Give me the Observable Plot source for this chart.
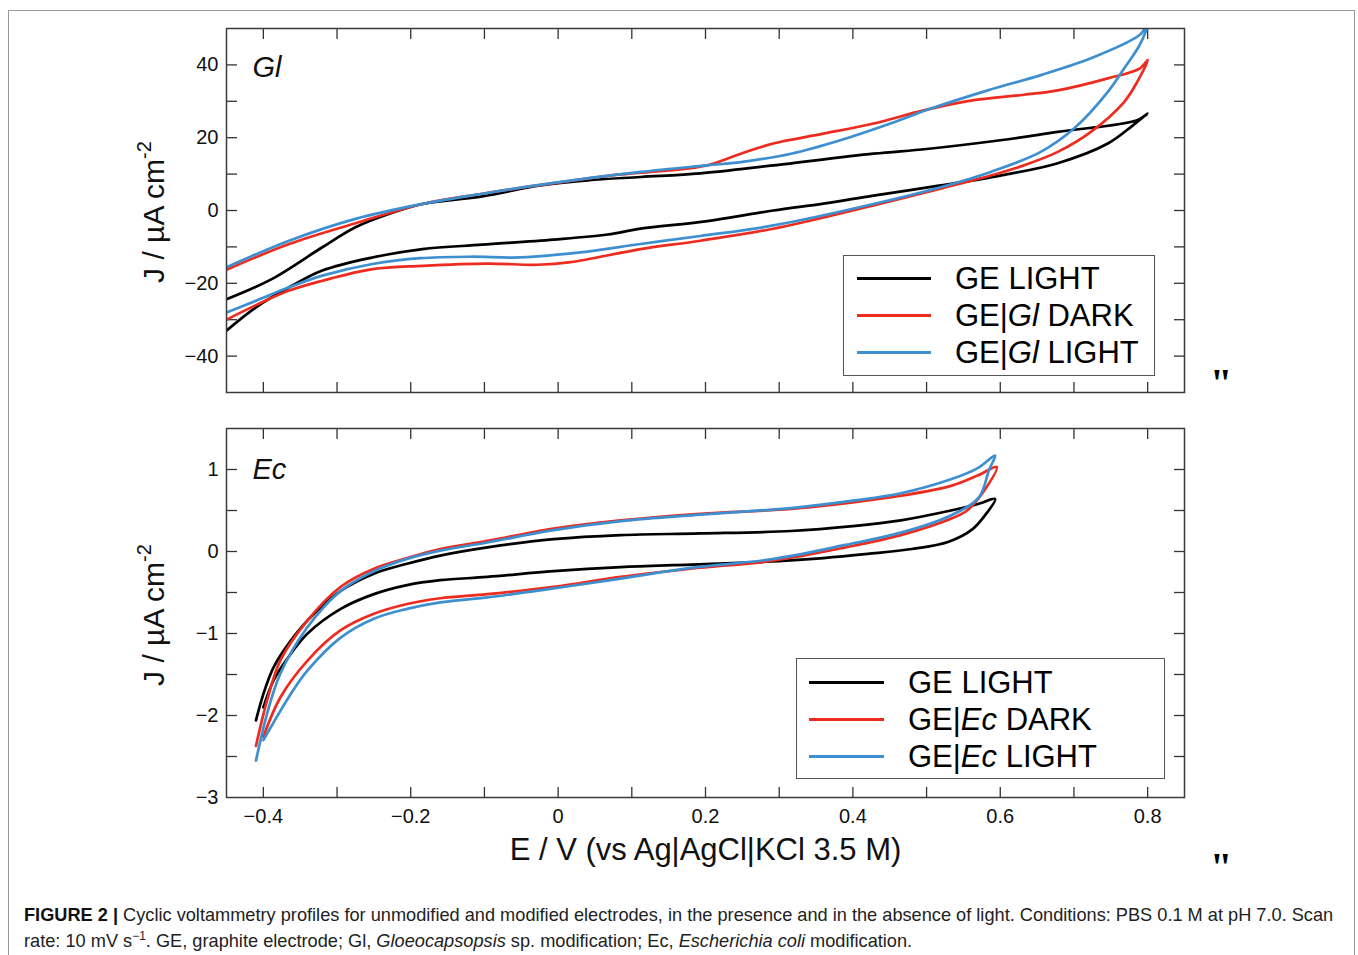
<!DOCTYPE html>
<html>
<head>
<meta charset="utf-8">
<script src="https://cdn.jsdelivr.net/npm/d3@7"></script>
<script src="https://cdn.jsdelivr.net/npm/@observablehq/plot@0.6"></script>
<style>
  body { margin: 0; background: #fff; font-family: "Liberation Sans", Arial, Helvetica, sans-serif; }
  #wrap { position: relative; width: 1358px; height: 955px; overflow: hidden; background: #fff; }
  #border { position: absolute; left: 8px; top: 10px; width: 1347px; height: 980px; border: 1px solid #9a9a9a; box-sizing: border-box; }
  .plotbox { position: absolute; left: 0; }
  .legend { position: absolute; border: 1px solid #555; background: #fff; box-sizing: border-box; }
  .legend .sw { position: absolute; height: 3px; }
  .legend .lt { position: absolute; font-size: 31px; line-height: 31px; color: #000; white-space: nowrap; transform: translateY(-50%); }
  .quote { position: absolute; font-family: "Liberation Serif", "Times New Roman", serif; font-size: 40px; line-height: 40px; font-weight: bold; color: #000; }
  #caption { position: absolute; left: 24px; top: 902px; width: 1330px; font-size: 18.2px; line-height: 26px; color: #222; white-space: nowrap; }
  #caption b { font-weight: bold; color: #111; }
</style>
</head>
<body>
<div id="wrap">
  <div id="border"></div>
  <div id="top" class="plotbox" style="top:0px"></div>
  <div id="bottom" class="plotbox" style="top:400px"></div>
  <div id="legTop" class="legend" style="left:843px;top:255px;width:312px;height:121px;"></div>
  <div id="legBottom" class="legend" style="left:796px;top:658px;width:369px;height:121px;"></div>
  <div class="quote" style="left:1210px;top:363px;">"</div>
  <div class="quote" style="left:1210px;top:847px;">"</div>
  <div id="caption"><b>FIGURE 2 |</b> Cyclic voltammetry profiles for unmodified and modified electrodes, in the presence and in the absence of light. Conditions: PBS 0.1 M at pH 7.0. Scan<br>rate: 10 mV s<sup style="font-size:12px;line-height:0;">−1</sup>. GE, graphite electrode; Gl, <i>Gloeocapsopsis</i> sp. modification; Ec, <i>Escherichia coli</i> modification.</div>
</div>
<script>
// ---------------- data ----------------
const xTicks = [-0.4, -0.3, -0.2, -0.1, 0, 0.1, 0.2, 0.3, 0.4, 0.5, 0.6, 0.7, 0.8];
const xTickLabels = [-0.4, -0.2, 0, 0.2, 0.4, 0.6, 0.8];
const glYTicks = [-40, -30, -20, -10, 0, 10, 20, 30, 40];
const glYTickLabels = [-40, -20, 0, 20, 40];
const ecYTicks = [-2.5, -2, -1.5, -1, -0.5, 0, 0.5, 1];
const ecYTickLabels = [-3, -2, -1, 0, 1];

const seriesNames = ["GE LIGHT", "DARK", "LIGHT"];
const seriesColors = ["#000000", "#ee2b1f", "#3d8fd0"];

// Gl panel (top): GE LIGHT
const glGeLightE = [-0.45, -0.388, -0.32, -0.275, -0.229, -0.184, -0.103, -0.024, 0.04, 0.112, 0.193, 0.292, 0.428, 0.5, 0.6, 0.678, 0.786, 0.8,
                    0.78, 0.746, 0.678, 0.6, 0.519, 0.428, 0.36, 0.292, 0.2, 0.112, 0.067, -0.006, -0.103, -0.184, -0.252, -0.32, -0.365, -0.41, -0.45];
const glGeLightJ = [-24.4, -18.8, -10.1, -4.6, -0.9, 1.8, 3.9, 6.9, 8.3, 9.2, 10.2, 12.4, 15.6, 16.9, 19.3, 21.6, 24.8, 26.6,
                    23.4, 18.4, 13, 9.6, 6.9, 4.1, 1.9, 0, -3, -5, -6.6, -8, -9.4, -10.6, -12.9, -16.5, -21.1, -26.6, -33];
// Gl panel: GE|Gl DARK
const glDarkE = [-0.45, -0.365, -0.275, -0.184, -0.103, -0.006, 0.085, 0.15, 0.202, 0.248, 0.292, 0.36, 0.428, 0.496, 0.564, 0.632, 0.678, 0.746, 0.789, 0.8,
                 0.786, 0.768, 0.723, 0.678, 0.632, 0.587, 0.519, 0.428, 0.292, 0.193, 0.112, 0.017, -0.028, -0.096, -0.184, -0.252, -0.32, -0.365, -0.41, -0.45];
const glDarkJ = [-16.3, -9.2, -3.5, 1.8, 4.6, 7.5, 9.9, 11, 12.4, 15.6, 18.4, 21.1, 23.9, 27.5, 30.3, 31.8, 33, 36.3, 39, 41.3,
                 35.4, 29.8, 21.6, 16.1, 12.4, 9.6, 6, 1.4, -5, -8.3, -10.6, -14.2, -14.9, -14.6, -15.2, -16.1, -19.3, -22, -26, -30];
// Gl panel: GE|Gl LIGHT
const glLightE = [-0.45, -0.365, -0.275, -0.184, -0.103, -0.006, 0.112, 0.202, 0.248, 0.316, 0.383, 0.451, 0.506, 0.583, 0.655, 0.723, 0.789, 0.8,
                  0.789, 0.768, 0.746, 0.7, 0.655, 0.587, 0.519, 0.428, 0.292, 0.193, 0.112, 0.03, -0.051, -0.119, -0.187, -0.252, -0.32, -0.365, -0.41, -0.45];
const glLightJ = [-15.6, -8.3, -2.3, 1.8, 4.6, 7.6, 10.6, 12.4, 13.3, 15.6, 19.3, 23.9, 28, 33, 37.2, 41.8, 48.2, 51,
                  45.4, 39, 32.6, 22.5, 16.1, 10.6, 6.4, 1.8, -4.1, -7, -9.2, -11.5, -12.9, -12.7, -13.1, -14.7, -17.9, -21.1, -24.8, -28];

// Ec panel (bottom): GE LIGHT
const ecGeLightE = [-0.41, -0.4, -0.386, -0.363, -0.34, -0.295, -0.25, -0.205, -0.16, -0.096, -0.006, 0.085, 0.193, 0.316, 0.4, 0.465, 0.533, 0.57, 0.593,
                    0.58, 0.562, 0.53, 0.48, 0.42, 0.36, 0.27, 0.18, 0.085, -0.006, -0.096, -0.16, -0.205, -0.25, -0.295, -0.34, -0.363, -0.386, -0.4];
const ecGeLightJ = [-2.06, -1.74, -1.41, -1.09, -0.84, -0.48, -0.27, -0.15, -0.05, 0.05, 0.15, 0.2, 0.22, 0.25, 0.31, 0.38, 0.5, 0.58, 0.64,
                    0.45, 0.27, 0.12, 0.03, -0.03, -0.08, -0.13, -0.16, -0.19, -0.24, -0.31, -0.35, -0.41, -0.52, -0.7, -1.0, -1.25, -1.57, -1.9];
// Ec panel: GE|Ec DARK
const ecDarkE = [-0.41, -0.395, -0.377, -0.34, -0.295, -0.25, -0.205, -0.16, -0.096, -0.006, 0.085, 0.193, 0.316, 0.4, 0.465, 0.533, 0.57, 0.595,
                 0.578, 0.555, 0.533, 0.465, 0.39, 0.293, 0.18, 0.085, -0.006, -0.096, -0.16, -0.205, -0.25, -0.295, -0.34, -0.377, -0.4];
const ecDarkJ = [-2.37, -1.82, -1.33, -0.84, -0.43, -0.21, -0.08, 0.03, 0.13, 0.28, 0.38, 0.46, 0.52, 0.6, 0.68, 0.8, 0.93, 1.03,
                 0.74, 0.5, 0.4, 0.2, 0.05, -0.11, -0.21, -0.31, -0.43, -0.52, -0.57, -0.64, -0.76, -0.96, -1.33, -1.78, -2.26];
// Ec panel: GE|Ec LIGHT
const ecLightE = [-0.41, -0.395, -0.377, -0.34, -0.295, -0.25, -0.205, -0.16, -0.096, -0.006, 0.085, 0.193, 0.316, 0.4, 0.465, 0.533, 0.57, 0.593,
                  0.585, 0.571, 0.533, 0.465, 0.39, 0.293, 0.18, 0.085, -0.006, -0.096, -0.16, -0.205, -0.25, -0.295, -0.34, -0.363, -0.4];
const ecLightJ = [-2.55, -1.98, -1.49, -0.92, -0.48, -0.24, -0.09, 0.01, 0.11, 0.26, 0.37, 0.45, 0.53, 0.62, 0.71, 0.88, 1.02, 1.17,
                  1.0, 0.66, 0.44, 0.23, 0.08, -0.09, -0.2, -0.33, -0.45, -0.56, -0.62, -0.7, -0.82, -1.05, -1.45, -1.74, -2.3];

const xTitle = "E / V (vs Ag|AgCl|KCl 3.5 M)";
const yTitleMain = "J / µA cm";
const yTitleSup = "-2";

// ---------------- helpers ----------------
const rows = (E, J) => E.map((e, i) => ({E: e, J: J[i]}));
const fmt = d => (d < 0 ? "\u2212" : "") + String(Math.abs(d));
const FONT = "'Liberation Sans', Arial, Helvetica, sans-serif";
const tickStyle = {stroke: "#333", strokeWidth: 1.3};

function panel({series, yDomain, yTicks, yTickLabels, tag, height, marginBottom, xLabels}) {
  const marks = [
    Plot.axisX(xTicks, {anchor: "bottom", tickSize: -10, fill: "none", ...tickStyle}),
    Plot.axisX(xTicks, {anchor: "top", tickSize: -10, fill: "none", ...tickStyle}),
    Plot.axisY(yTicks, {anchor: "left", tickSize: -11, fill: "none", ...tickStyle}),
    Plot.axisY(yTicks, {anchor: "right", tickSize: -11, fill: "none", ...tickStyle}),
    Plot.axisY(yTickLabels, {anchor: "left", tickSize: 0, tickPadding: 8, fontSize: 20, fill: "#111", tickFormat: fmt}),
  ];
  if (xLabels) {
    marks.push(Plot.axisX(xTickLabels, {anchor: "bottom", tickSize: 0, tickPadding: 11, fontSize: 20, fill: "#111", tickFormat: fmt}));
    marks.push(Plot.text([xTitle], {frameAnchor: "bottom", dy: 53, fontSize: 31, lineAnchor: "middle", fill: "#111", text: d => d}));
  }
  series.forEach((s, i) => {
    marks.push(Plot.line(rows(s[0], s[1]), {x: "E", y: "J", stroke: seriesColors[i], strokeWidth: 2.7, curve: "catmull-rom", clip: true}));
  });
  marks.push(Plot.frame({stroke: "#3a3a3a", strokeWidth: 1.5}));
  marks.push(Plot.text([tag], {frameAnchor: "top-left", dx: 26, dy: tag === "Gl" ? 39 : 41, textAnchor: "start", lineAnchor: "middle", fontStyle: "italic", fontSize: 29, fill: "#111", text: d => d}));
  return Plot.plot({
    width: 1358, height,
    marginTop: 28, marginBottom, marginLeft: 226, marginRight: 174,
    x: {domain: [-0.45, 0.85], label: null},
    y: {domain: yDomain, label: null},
    style: {fontFamily: FONT, background: "transparent", overflow: "visible"},
    marks
  });
}

function addYTitle(svg, cy) {
  const t = d3.select(svg).append("text")
    .attr("transform", `translate(164,${cy}) rotate(-90)`)
    .attr("text-anchor", "middle")
    .attr("font-family", FONT)
    .attr("font-size", 30)
    .attr("fill", "#111");
  t.append("tspan").text(yTitleMain);
  t.append("tspan").attr("dy", -13).attr("font-size", 20).text(yTitleSup);
}

const topSvg = panel({
  series: [[glGeLightE, glGeLightJ], [glDarkE, glDarkJ], [glLightE, glLightJ]],
  yDomain: [-50, 50], yTicks: glYTicks, yTickLabels: glYTickLabels, tag: "Gl",
  height: 400, marginBottom: 8, xLabels: false
});
addYTitle(topSvg, 212);
document.getElementById("top").appendChild(topSvg);

const bottomSvg = panel({
  series: [[ecGeLightE, ecGeLightJ], [ecDarkE, ecDarkJ], [ecLightE, ecLightJ]],
  yDomain: [-3, 1.5], yTicks: ecYTicks, yTickLabels: ecYTickLabels, tag: "Ec",
  height: 480, marginBottom: 83, xLabels: true
});
addYTitle(bottomSvg, 215);
document.getElementById("bottom").appendChild(bottomSvg);

// ---------------- legends ----------------
function legend(el, org, rowsY, lineLeft, lineWidth, textLeft) {
  seriesNames.forEach((name, i) => {
    const sw = document.createElement("div");
    sw.className = "sw";
    sw.style.left = lineLeft + "px";
    sw.style.width = lineWidth + "px";
    sw.style.top = (rowsY[i] - 1.5) + "px";
    sw.style.background = seriesColors[i];
    el.appendChild(sw);
    const lt = document.createElement("div");
    lt.className = "lt";
    lt.style.left = textLeft + "px";
    lt.style.top = rowsY[i] + "px";
    if (i === 0) {
      lt.textContent = name;
    } else {
      lt.append("GE|");
      const it = document.createElement("i");
      it.textContent = org;
      lt.append(it);
      lt.append(" " + name);
    }
    el.appendChild(lt);
  });
}
legend(document.getElementById("legTop"), "Gl", [22, 59, 96], 13, 74, 111);
legend(document.getElementById("legBottom"), "Ec", [23, 60, 97], 12, 75, 111);
</script>
</body>
</html>
